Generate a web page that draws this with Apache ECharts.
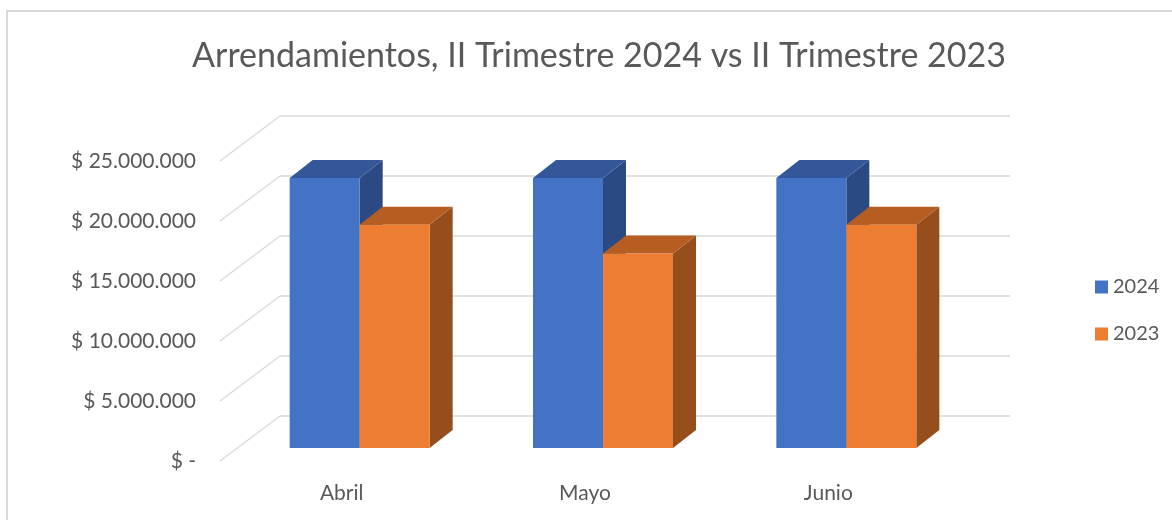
<!DOCTYPE html>
<html>
<head>
<meta charset="utf-8">
<script src="https://cdn.jsdelivr.net/npm/echarts@6/dist/echarts.min.js"></script>
<style>
  html, body { margin: 0; padding: 0; background: #fff; }
  #chart { width: 1172px; height: 520px; }
</style>
</head>
<body>
<div id="chart"></div>
<script>
const categories = ["Abril", "Mayo", "Junio"];
const values2024 = [22500000, 22500000, 22500000];
const values2023 = [18600000, 16200000, 18600000];
const yTickValues = [0, 5000000, 10000000, 15000000, 20000000, 25000000];
const yTickLabels = ["$ -", "$ 5.000.000", "$ 10.000.000", "$ 15.000.000", "$ 20.000.000", "$ 25.000.000"];

const textColor = "#595959";
const gridColor = "#d9d9d9";
const font = "Lato";

// fake 3d: bar depth offset and wall offset
const depthX = 23, depthY = -18;
const barW = 70;

function boxRenderer(side, front, top, right) {
  return function (params, api) {
    const base = api.coord([api.value(0), 0]);
    const tip = api.coord([api.value(0), api.value(1)]);
    const x0 = side < 0 ? base[0] - barW : base[0];
    const x1 = x0 + barW;
    const yT = tip[1], yB = base[1];
    return {
      type: "group",
      children: [
        {
          type: "polygon",
          shape: { points: [[x1, yT], [x1 + depthX, yT + depthY], [x1 + depthX, yB + depthY], [x1, yB]] },
          style: { fill: right }
        },
        {
          type: "polygon",
          shape: { points: [[x0, yT], [x1, yT], [x1 + depthX, yT + depthY], [x0 + depthX, yT + depthY]] },
          style: { fill: top }
        },
        {
          type: "rect",
          shape: { x: x0, y: yT, width: barW, height: yB - yT },
          style: { fill: front }
        }
      ]
    };
  };
}

const chart = echarts.init(document.getElementById("chart"));
chart.setOption({
  animation: false,
  textStyle: { fontFamily: font },
  title: {
    text: "Arrendamientos, II Trimestre 2024 vs II Trimestre 2023",
    left: 594,
    top: 34,
    textAlign: "center",
    textStyle: { fontFamily: font, fontSize: 34, fontWeight: "normal", color: textColor }
  },
  graphic: [
    {
      type: "rect",
      shape: { x: 7, y: 11, width: 1200, height: 600 },
      style: { fill: "none", stroke: "#d9d9d9", lineWidth: 2 },
      silent: true
    }
  ],
  legend: {
    orient: "vertical",
    left: 1090,
    top: 272,
    itemWidth: 13,
    itemHeight: 13,
    itemGap: 27,
    icon: "rect",
    textStyle: { fontFamily: font, fontSize: 20, color: textColor },
    data: ["2024", "2023"]
  },
  grid: [
    // back wall
    { left: 280, right: 162, top: 116, bottom: 104 },
    // bar front plane
    { left: 238, right: 204, top: 148, bottom: 72 },
    // front floor edge (labels)
    { left: 220, right: 222, top: 161, bottom: 59 }
  ],
  xAxis: [
    { gridIndex: 0, type: "value", min: 0, max: 1, show: false },
    { gridIndex: 1, type: "category", data: categories, show: false },
    {
      gridIndex: 2, type: "category", data: categories,
      axisLine: { show: false }, axisTick: { show: false },
      axisLabel: { margin: 22, fontFamily: font, fontSize: 21, color: textColor }
    }
  ],
  yAxis: [
    {
      gridIndex: 0, type: "value", min: 0, max: 25000000, interval: 5000000,
      axisLabel: { show: false }, axisLine: { show: false }, axisTick: { show: false },
      splitLine: { lineStyle: { color: gridColor, width: 1.5 } }
    },
    { gridIndex: 1, type: "value", min: 0, max: 25000000, interval: 5000000, show: false },
    {
      gridIndex: 2, type: "value", min: 0, max: 25000000, interval: 5000000,
      axisLine: { show: false }, axisTick: { show: false }, splitLine: { show: false },
      axisLabel: {
        margin: 24, fontFamily: font, fontSize: 21, color: textColor,
        formatter: function (v) { return yTickLabels[yTickValues.indexOf(v)]; }
      }
    }
  ],
  series: [
    {
      // diagonal side wall lines
      type: "custom",
      xAxisIndex: 0, yAxisIndex: 0,
      silent: true,
      data: yTickValues.map(function (v) { return [0, v]; }),
      renderItem: function (params, api) {
        const p = api.coord([0, api.value(1)]);
        return {
          type: "line",
          shape: { x1: p[0], y1: p[1], x2: p[0] - 60, y2: p[1] + 45 },
          style: { stroke: gridColor, lineWidth: 1.5 }
        };
      }
    },
    {
      name: "2024",
      type: "custom",
      xAxisIndex: 1, yAxisIndex: 1,
      itemStyle: { color: "#4472C4" },
      data: values2024.map(function (v, i) { return [i, v]; }),
      renderItem: boxRenderer(-1, "#4472C4", "#34579A", "#2B4A84")
    },
    {
      name: "2023",
      type: "custom",
      xAxisIndex: 1, yAxisIndex: 1,
      itemStyle: { color: "#ED7D31" },
      data: values2023.map(function (v, i) { return [i, v]; }),
      renderItem: boxRenderer(1, "#ED7D31", "#B65E21", "#974E1D")
    }
  ]
});
</script>
</body>
</html>
